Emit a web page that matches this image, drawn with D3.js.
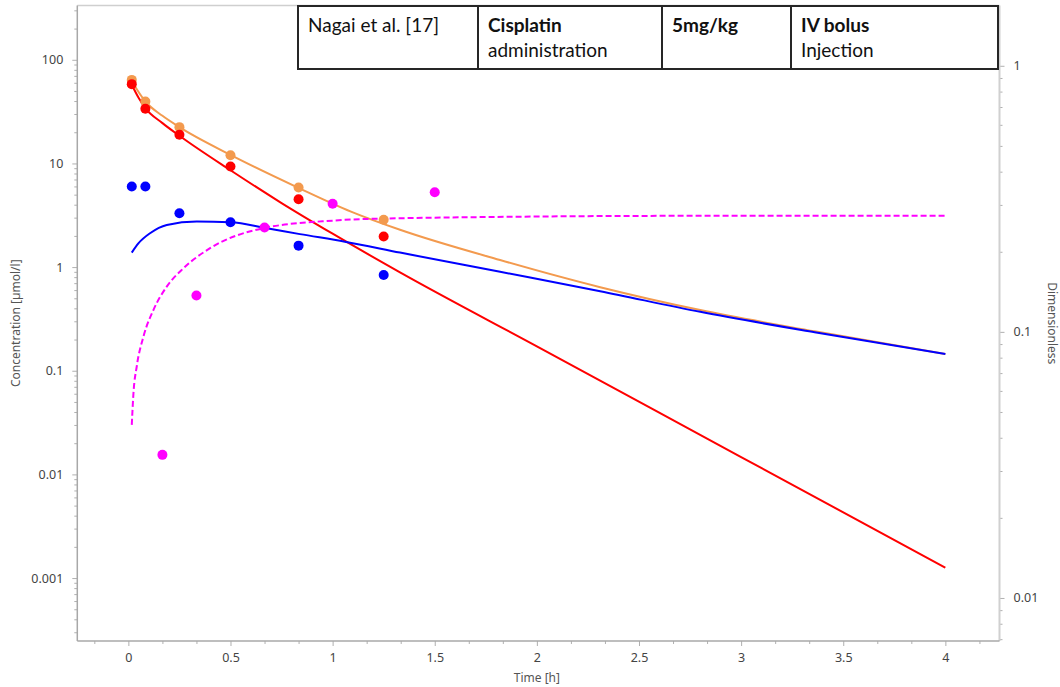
<!DOCTYPE html>
<html>
<head>
<meta charset="utf-8">
<script src="https://cdn.jsdelivr.net/npm/d3@7/dist/d3.min.js"></script>
<style>
  html, body { margin: 0; padding: 0; background: #fff; }
  svg { display: block; }
  .tick text { font-family: "Noto Sans", "Liberation Sans", sans-serif; font-size: 12.5px; fill: #444; }
  .axis-title { font-family: "Noto Sans", "Liberation Sans", sans-serif; font-size: 12px; fill: #555; }
  .tbl { font-family: Lato, "Open Sans", sans-serif; font-size: 19px; fill: #111; }
</style>
</head>
<body>
<svg id="chart" width="1060" height="687"></svg>
<script>
// ---- observed data (time in h) ----
const obsTime      = [0.0167, 0.0833, 0.25, 0.5, 0.8333, 1.25];
const obsOrange    = [64, 39.6, 22.4, 12.0, 5.85, 2.86];
const obsRed       = [58.2, 33.7, 18.9, 9.33, 4.52, 1.97];
const obsBlue      = [5.98, 5.98, 3.31, 2.71, 1.61, 0.84];
const obsMagTime   = [0.1667, 0.3333, 0.6667, 1.0, 1.5];
const obsMagenta   = [0.0345, 0.137, 0.2466, 0.303, 0.335];   // dimensionless (right axis)

// ---- simulated profiles ----
const simOrange = [[0.0167, 62], [0.083, 39.6], [0.167, 28.8], [0.25, 22.4], [0.5, 12.1], [0.83, 5.85],
                   [1.09, 3.43], [1.33, 2.29], [1.82, 1.17], [2.31, 0.64], [2.8, 0.385], [3.36, 0.24],
                   [4.0, 0.145]];
const simRed    = [[0.0167, 57.4], [0.05, 43], [0.083, 34.2], [0.167, 24.5], [0.25, 18.5], [0.5, 8.6],
                   [0.75, 4.15], [1.0, 2.1], [1.33, 0.89], [2.0, 0.172], [3.0, 0.0147], [4.0, 0.00126]];
const simBlue   = [[0.0167, 1.38], [0.05, 1.7], [0.106, 2.12], [0.188, 2.55], [0.335, 2.75], [0.5, 2.71],
                   [0.678, 2.37], [0.84, 2.08], [1.06, 1.76], [1.33, 1.38], [1.82, 0.90], [2.31, 0.585],
                   [2.8, 0.37], [3.36, 0.235], [4.0, 0.145]];
const simMagenta = [[0.0167, 0.0447], [0.025, 0.0589], [0.041, 0.0741], [0.074, 0.0961], [0.123, 0.121],
                    [0.188, 0.148], [0.27, 0.1735], [0.40, 0.2063], [0.661, 0.2453], [1.004, 0.262],
                    [1.33, 0.2674], [2.8, 0.273], [4.0, 0.273]];

// ---- axis ticks ----
const xTickLabels = [0, 0.5, 1, 1.5, 2, 2.5, 3, 3.5, 4];
const xMinorTicks = [-0.1667, 0.1667, 0.3333, 0.6667, 0.8333, 1.1667, 1.3333, 1.6667, 1.8333, 2.1667,
                     2.3333, 2.6667, 2.8333, 3.1667, 3.3333, 3.6667, 3.8333, 4.1667];
const yLeftTicks   = [100, 10, 1, 0.1, 0.01, 0.001];
const yRightTicks  = [1, 0.1, 0.01];

// ---- header table ----
const headerCells = [
  { bold: "", text: "Nagai et al. [17]", sub: "" },
  { bold: "Cisplatin", text: "", sub: "administration" },
  { bold: "5mg/kg", text: "", sub: "" },
  { bold: "IV bolus", text: "", sub: "Injection" }
];

const colors = { orange: "#f39a4e", red: "#ff0000", blue: "#0000ff", magenta: "#ff00ff" };

const svg = d3.select("#chart");
const L = 77.3, R = 999.5, T = 5.5, B = 641;

const x  = d3.scaleLinear().domain([-0.25, 4.265]).range([L, R]);
const yL = d3.scaleLog().domain([334, 0.000247]).range([T, B]);
const yR = d3.scaleLog().domain([1.685, 0.00689]).range([T, B]);

// log minor ticks 2..9 within a domain
function logMinors(scale) {
  const [a, b] = scale.domain().slice().sort((p, q) => p - q);
  const out = [];
  for (let e = Math.floor(Math.log10(a)); e <= Math.ceil(Math.log10(b)); e++) {
    for (let m = 2; m <= 9; m++) {
      const v = m * Math.pow(10, e);
      if (v >= a && v <= b) out.push(v);
    }
  }
  return out;
}

const fmt = d => String(d);

// frame
svg.append("line").attr("x1", L).attr("x2", R).attr("y1", T).attr("y2", T)
  .attr("stroke", "#cfcfcf").attr("stroke-width", 1.5);

// left axis
const gL = svg.append("g").attr("transform", `translate(${L},0)`);
gL.call(d3.axisLeft(yL).tickValues(logMinors(yL)).tickSize(3).tickSizeOuter(0).tickFormat(""));
gL.select(".domain").remove();
const gL2 = svg.append("g").attr("transform", `translate(${L},0)`);
gL2.call(d3.axisLeft(yL).tickValues(yLeftTicks).tickSize(5).tickSizeOuter(0).tickPadding(9).tickFormat(fmt));
gL2.select(".domain").remove();
svg.append("line").attr("x1", L).attr("x2", L).attr("y1", T).attr("y2", B)
  .attr("stroke", "#a8a8a8").attr("stroke-width", 1.5);

// right axis
const gR = svg.append("g").attr("transform", `translate(${R},0)`);
gR.call(d3.axisRight(yR).tickValues(logMinors(yR)).tickSize(3).tickSizeOuter(0).tickFormat(""));
gR.select(".domain").remove();
const gR2 = svg.append("g").attr("transform", `translate(${R},0)`);
gR2.call(d3.axisRight(yR).tickValues(yRightTicks).tickSize(5).tickSizeOuter(0).tickPadding(9).tickFormat(fmt));
gR2.select(".domain").remove();
svg.append("line").attr("x1", R).attr("x2", R).attr("y1", T).attr("y2", B)
  .attr("stroke", "#d0d0d0").attr("stroke-width", 2);

// bottom axis
const gB = svg.append("g").attr("transform", `translate(0,${B})`);
gB.call(d3.axisBottom(x).tickValues(xMinorTicks).tickSize(3).tickSizeOuter(0).tickFormat(""));
gB.select(".domain").remove();
const gB2 = svg.append("g").attr("transform", `translate(0,${B})`);
gB2.call(d3.axisBottom(x).tickValues(xTickLabels).tickSize(5).tickSizeOuter(0).tickPadding(7).tickFormat(fmt));
gB2.select(".domain").remove();
svg.append("line").attr("x1", L).attr("x2", R).attr("y1", B).attr("y2", B)
  .attr("stroke", "#a8a8a8").attr("stroke-width", 1.5);

svg.selectAll(".tick line").attr("stroke", "#b0b0b0");

// axis titles
svg.append("text").attr("class", "axis-title")
  .attr("x", x(2)).attr("y", 682).attr("text-anchor", "middle").text("Time [h]");
svg.append("text").attr("class", "axis-title")
  .attr("transform", `translate(20,${(T + B) / 2}) rotate(-90)`)
  .attr("text-anchor", "middle").text("Concentration [µmol/l]");
svg.append("text").attr("class", "axis-title")
  .attr("transform", `translate(1048,${(T + B) / 2}) rotate(90)`)
  .attr("text-anchor", "middle").text("Dimensionless");

// simulated curves
const plot = svg.append("g");
function drawCurve(data, yScale, color, dash) {
  const line = d3.line().x(d => x(d[0])).y(d => yScale(d[1])).curve(d3.curveMonotoneX);
  plot.append("path").datum(data).attr("d", line)
    .attr("fill", "none").attr("stroke", color).attr("stroke-width", 2)
    .attr("stroke-dasharray", dash || null);
}
drawCurve(simOrange, yL, colors.orange);
drawCurve(simRed, yL, colors.red);
drawCurve(simBlue, yL, colors.blue);
drawCurve(simMagenta, yR, colors.magenta, "6,3");

// observed points
function drawDots(times, values, yScale, color) {
  plot.append("g").selectAll("circle").data(values).join("circle")
    .attr("cx", (d, i) => x(times[i])).attr("cy", d => yScale(d))
    .attr("r", 5).attr("fill", color);
}
drawDots(obsTime, obsOrange, yL, colors.orange);
drawDots(obsTime, obsRed, yL, colors.red);
drawDots(obsTime, obsBlue, yL, colors.blue);
drawDots(obsMagTime, obsMagenta, yR, colors.magenta);

// header table
const colEdges = [298, 478, 662, 791, 998];
const tblTop = 6, tblBot = 69;
const tbl = svg.append("g");
tbl.append("rect").attr("x", colEdges[0]).attr("y", tblTop)
  .attr("width", colEdges[4] - colEdges[0]).attr("height", tblBot - tblTop)
  .attr("fill", "#fff").attr("stroke", "#262626").attr("stroke-width", 2);
tbl.selectAll("line.div").data(colEdges.slice(1, 4)).join("line")
  .attr("x1", d => d).attr("x2", d => d).attr("y1", tblTop).attr("y2", tblBot)
  .attr("stroke", "#262626").attr("stroke-width", 2);
headerCells.forEach((c, i) => {
  const tx = colEdges[i] + 10;
  const t = tbl.append("text").attr("class", "tbl").attr("x", tx).attr("y", 32);
  if (c.bold) t.append("tspan").attr("font-weight", "bold").text(c.bold);
  if (c.text) t.append("tspan").text(c.text);
  if (c.sub) tbl.append("text").attr("class", "tbl").attr("x", tx).attr("y", 57).text(c.sub);
});
</script>
</body>
</html>
